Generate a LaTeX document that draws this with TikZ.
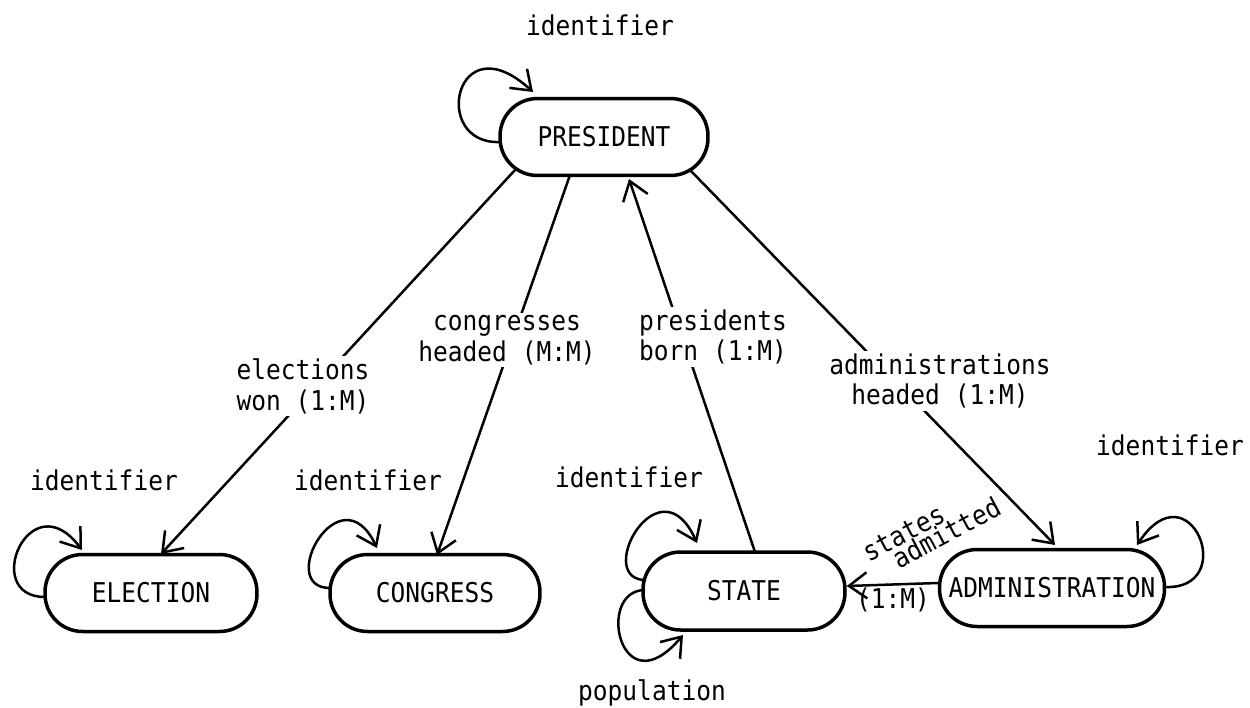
\documentclass[tikz,border=0pt]{standalone}
\usepackage{fontspec}
\setmonofont[FakeStretch=0.9]{DejaVu Sans Mono}
\usetikzlibrary{arrows.meta}
\newcommand{\dgmfont}{\ttfamily\fontsize{15.5}{17.5}\selectfont}
\tikzset{
  ent/.style={draw, line width=0.07cm, rounded corners=0.75cm, minimum height=1.54cm, inner sep=0pt, font=\dgmfont},
  txt/.style={font=\dgmfont, inner sep=1pt},
  lbl/.style={font=\dgmfont, fill=white, align=center, inner sep=1.5pt},
  arr/.style={line width=0.05cm, -{Straight Barb[length=0.36cm,width=0.52cm]}}
}
\begin{document}
\begin{tikzpicture}[x=0.02cm,y=-0.02cm]
\useasboundingbox (0,0) rectangle (1250,707);
% entities
\node[ent, minimum width=4.16cm] (pres) at (604,137) {PRESIDENT};
\node[ent, minimum width=4.24cm] (elec) at (151,593) {ELECTION};
\node[ent, minimum width=4.2cm] (cong) at (435,593) {CONGRESS};
\node[ent, minimum width=4.04cm, minimum height=1.56cm] (state) at (744,591) {STATE};
\node[ent, minimum width=4.5cm] (admin) at (1052,588) {ADMINISTRATION};
% relationships
\draw[arr] ([shift={(-89,33)}]pres.center) -- ([shift={(10,-39)}]elec.center);
\draw[arr] ([shift={(-34,38)}]pres.center) -- ([shift={(2,-38)}]cong.center);
\draw[arr] ([shift={(11,-39)}]state.center) -- ([shift={(25,42)}]pres.center);
\draw[arr] ([shift={(86,33)}]pres.center) -- ([shift={(3,-43)}]admin.center);
\draw[arr] ([yshift=0.1cm]admin.west) -- ([yshift=0.1cm]state.east);
% self loops
\draw[arr] ([shift={(-104,5)}]pres.center) .. controls (430,145) and (455,20) .. ([shift={(-71,-45)}]pres.center);
\draw[arr] ([shift={(-106,4)}]elec.center) .. controls (-20,597) and (30,480) .. ([shift={(-69,-43)}]elec.center);
\draw[arr] ([shift={(-105,-5)}]cong.center) .. controls (275,588) and (340,470) .. ([shift={(-58,-45)}]cong.center);
\draw[arr] ([shift={(-101,-11)}]state.center) .. controls (595,575) and (660,460) .. ([shift={(-47,-48)}]state.center);
\draw[arr] ([shift={(-99,-1)}]state.center) .. controls (595,590) and (620,710) .. ([shift={(-61,44)}]state.center);
\draw[arr] ([shift={(113,-1)}]admin.center) .. controls (1240,590) and (1190,465) .. ([shift={(85,-43)}]admin.center);
% relationship labels
\node[lbl] (lel) at (303,386) {elections\\won (1:M)};
\node[lbl] (lcg) at (507,340) {congresses\\headed (M:M)};
\node[lbl] (lpb) at (713,337) {presidents\\born (1:M)};
\node[lbl] (lad) at (940,381) {administrations\\headed (1:M)};
\node[txt, rotate=28, anchor=base west] (lst) at (867,563) {states};
\node[txt, rotate=28, anchor=base west] (lam) at (897,570) {admitted};
\node[txt] (l1m) at (893,600) {(1:M)};
% attribute labels
\node[txt, anchor=base] (ipres) at (600,35) {identifier};
\node[txt, anchor=base] (ielec) at (104,490) {identifier};
\node[txt, anchor=base] (icong) at (368,490) {identifier};
\node[txt, anchor=base] (istate) at (629,487) {identifier};
\node[txt, anchor=base] (iadmin) at (1170,455) {identifier};
\node[txt, anchor=base] (ipop) at (652,700) {population};
\end{tikzpicture}
\end{document}
